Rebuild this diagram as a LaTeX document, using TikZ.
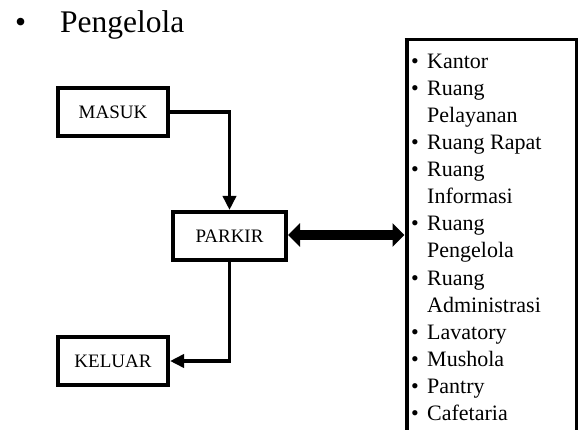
\documentclass[tikz,border=0pt]{standalone}
\usepackage{fontspec}
\setmainfont{Liberation Serif}
\usetikzlibrary{arrows.meta}

\newcommand\itm{\makebox[16pt][l]{•}}
\newcommand\ind{\hspace*{16pt}}

\tikzset{
  flowbox/.style={draw, line width=4pt, inner sep=0pt, minimum height=48pt,
    font=\fontsize{19}{22}\selectfont},
  flowline/.style={line width=3.5pt, -{Triangle[length=14pt,width=13pt]}},
  biglink/.style={line width=10pt,
    {Triangle[length=12pt,width=23pt]}-{Triangle[length=12pt,width=23pt]}},
  listtext/.style={anchor=base west, inner sep=0pt, font=\fontsize{22}{27}\selectfont},
  headtext/.style={anchor=base west, inner sep=0pt, font=\fontsize{31.5}{36}\selectfont},
}

\begin{document}
\begin{tikzpicture}[x=1pt, y=-1pt]
  \useasboundingbox (0,0) rectangle (583,430);
  \clip (0,0) rectangle (583,430);

  % heading
  \node[headtext] (bul) at (15,33) {•};
  \node[headtext] (judul) at (60,33) {Pengelola};

  % flow boxes
  \node[flowbox, minimum width=110pt] (masuk) at (113,112) {MASUK};
  \node[flowbox, minimum width=113pt] (parkir) at (229.5,236) {PARKIR};
  \node[flowbox, minimum width=110pt] (keluar) at (113,361) {KELUAR};

  \draw[flowline] (masuk.east) -| (parkir.north);
  \draw[flowline] (parkir.south) |- (keluar.east);

  % facilities panel (runs past the lower edge)
  \node[anchor=north west, inner sep=0pt, outer sep=0pt,
        minimum width=173pt, minimum height=420pt] (fasilitas) at (404.5,40) {};
  \draw[line width=4.5pt] ([xshift=2.25pt]fasilitas.north west) -- ([xshift=2.25pt]fasilitas.south west);
  \draw[line width=3pt] (fasilitas.north west) -- (fasilitas.north east);
  \draw[line width=2.5pt] ([xshift=-1.25pt]fasilitas.north east) -- ([xshift=-1.25pt]fasilitas.south east);

  \draw[biglink] ([yshift=1pt]parkir.east) -- ([yshift=1pt]parkir.east -| fasilitas.west);

  % facility list
  \foreach \t [count=\i] in {{\itm Kantor},{\itm Ruang},{\ind Pelayanan},
      {\itm Ruang Rapat},{\itm Ruang},{\ind Informasi},{\itm Ruang},
      {\ind Pengelola},{\itm Ruang},{\ind Administrasi},{\itm Lavatory},
      {\itm Mushola},{\itm Pantry},{\itm Cafetaria}}
    \node[listtext] (li\i) at (411,{69+27*(\i-1)}) {\t};
\end{tikzpicture}
\end{document}
